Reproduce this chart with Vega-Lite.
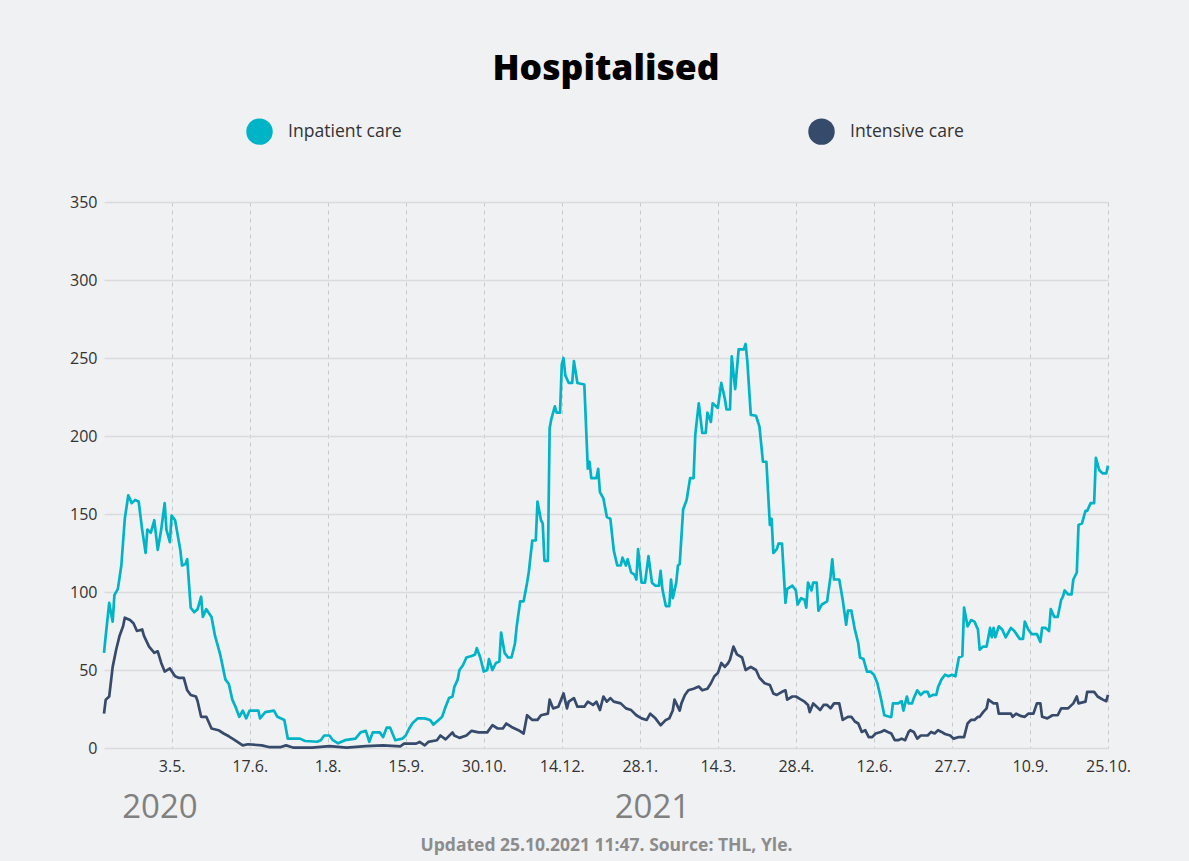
{
  "$schema": "https://vega.github.io/schema/vega-lite/v6.json",
  "autosize": {"type": "none"},
  "padding": {"left": 104, "top": 202, "right": 81, "bottom": 113},
  "width": 1004,
  "height": 546,
  "background": "#f0f1f3",
  "title": {"text": "Hospitalised", "font": "Open Sans", "fontSize": 35.5, "fontWeight": 800, "color": "#000000", "anchor": "middle", "frame": "group", "offset": 31},
  "datasets": {
    "years": [
      {"date": "2020-04-26", "label": "2020"},
      {"date": "2021-02-04", "label": "2021"}
    ],
    "hosp": [
      {"date":"2020-03-25","series":"Inpatient care","value":61},
      {"date":"2020-03-26","series":"Inpatient care","value":72},
      {"date":"2020-03-28","series":"Inpatient care","value":93},
      {"date":"2020-03-30","series":"Inpatient care","value":81},
      {"date":"2020-03-31","series":"Inpatient care","value":98},
      {"date":"2020-04-02","series":"Inpatient care","value":102},
      {"date":"2020-04-04","series":"Inpatient care","value":117},
      {"date":"2020-04-06","series":"Inpatient care","value":147},
      {"date":"2020-04-08","series":"Inpatient care","value":162},
      {"date":"2020-04-10","series":"Inpatient care","value":157},
      {"date":"2020-04-12","series":"Inpatient care","value":159},
      {"date":"2020-04-14","series":"Inpatient care","value":158},
      {"date":"2020-04-16","series":"Inpatient care","value":140},
      {"date":"2020-04-18","series":"Inpatient care","value":125},
      {"date":"2020-04-19","series":"Inpatient care","value":140},
      {"date":"2020-04-21","series":"Inpatient care","value":138},
      {"date":"2020-04-23","series":"Inpatient care","value":146},
      {"date":"2020-04-25","series":"Inpatient care","value":127},
      {"date":"2020-04-27","series":"Inpatient care","value":140},
      {"date":"2020-04-29","series":"Inpatient care","value":157},
      {"date":"2020-04-30","series":"Inpatient care","value":140},
      {"date":"2020-05-02","series":"Inpatient care","value":132},
      {"date":"2020-05-03","series":"Inpatient care","value":149},
      {"date":"2020-05-05","series":"Inpatient care","value":146},
      {"date":"2020-05-08","series":"Inpatient care","value":127},
      {"date":"2020-05-09","series":"Inpatient care","value":117},
      {"date":"2020-05-11","series":"Inpatient care","value":118},
      {"date":"2020-05-12","series":"Inpatient care","value":121},
      {"date":"2020-05-14","series":"Inpatient care","value":90},
      {"date":"2020-05-16","series":"Inpatient care","value":87},
      {"date":"2020-05-18","series":"Inpatient care","value":89},
      {"date":"2020-05-20","series":"Inpatient care","value":97},
      {"date":"2020-05-21","series":"Inpatient care","value":84},
      {"date":"2020-05-23","series":"Inpatient care","value":89},
      {"date":"2020-05-26","series":"Inpatient care","value":84},
      {"date":"2020-05-28","series":"Inpatient care","value":72},
      {"date":"2020-05-31","series":"Inpatient care","value":60},
      {"date":"2020-06-03","series":"Inpatient care","value":44},
      {"date":"2020-06-05","series":"Inpatient care","value":41},
      {"date":"2020-06-07","series":"Inpatient care","value":31},
      {"date":"2020-06-09","series":"Inpatient care","value":26},
      {"date":"2020-06-11","series":"Inpatient care","value":20},
      {"date":"2020-06-13","series":"Inpatient care","value":24},
      {"date":"2020-06-15","series":"Inpatient care","value":19},
      {"date":"2020-06-17","series":"Inpatient care","value":24},
      {"date":"2020-06-22","series":"Inpatient care","value":24},
      {"date":"2020-06-23","series":"Inpatient care","value":19},
      {"date":"2020-06-26","series":"Inpatient care","value":23},
      {"date":"2020-07-01","series":"Inpatient care","value":24},
      {"date":"2020-07-03","series":"Inpatient care","value":20},
      {"date":"2020-07-07","series":"Inpatient care","value":18},
      {"date":"2020-07-09","series":"Inpatient care","value":6},
      {"date":"2020-07-16","series":"Inpatient care","value":6},
      {"date":"2020-07-19","series":"Inpatient care","value":4.5},
      {"date":"2020-07-26","series":"Inpatient care","value":4},
      {"date":"2020-07-28","series":"Inpatient care","value":5},
      {"date":"2020-07-30","series":"Inpatient care","value":8},
      {"date":"2020-08-02","series":"Inpatient care","value":8},
      {"date":"2020-08-04","series":"Inpatient care","value":5},
      {"date":"2020-08-07","series":"Inpatient care","value":3},
      {"date":"2020-08-11","series":"Inpatient care","value":5},
      {"date":"2020-08-17","series":"Inpatient care","value":6},
      {"date":"2020-08-20","series":"Inpatient care","value":10},
      {"date":"2020-08-23","series":"Inpatient care","value":11},
      {"date":"2020-08-25","series":"Inpatient care","value":4},
      {"date":"2020-08-27","series":"Inpatient care","value":10},
      {"date":"2020-08-31","series":"Inpatient care","value":10},
      {"date":"2020-09-02","series":"Inpatient care","value":7},
      {"date":"2020-09-04","series":"Inpatient care","value":13},
      {"date":"2020-09-06","series":"Inpatient care","value":13},
      {"date":"2020-09-09","series":"Inpatient care","value":5},
      {"date":"2020-09-13","series":"Inpatient care","value":6},
      {"date":"2020-09-15","series":"Inpatient care","value":8},
      {"date":"2020-09-17","series":"Inpatient care","value":12.5},
      {"date":"2020-09-19","series":"Inpatient care","value":16},
      {"date":"2020-09-22","series":"Inpatient care","value":19},
      {"date":"2020-09-26","series":"Inpatient care","value":19},
      {"date":"2020-09-29","series":"Inpatient care","value":18},
      {"date":"2020-10-01","series":"Inpatient care","value":15},
      {"date":"2020-10-04","series":"Inpatient care","value":18},
      {"date":"2020-10-06","series":"Inpatient care","value":20},
      {"date":"2020-10-08","series":"Inpatient care","value":26.5},
      {"date":"2020-10-10","series":"Inpatient care","value":32},
      {"date":"2020-10-12","series":"Inpatient care","value":33},
      {"date":"2020-10-13","series":"Inpatient care","value":39},
      {"date":"2020-10-15","series":"Inpatient care","value":44},
      {"date":"2020-10-16","series":"Inpatient care","value":50},
      {"date":"2020-10-18","series":"Inpatient care","value":53},
      {"date":"2020-10-20","series":"Inpatient care","value":58},
      {"date":"2020-10-23","series":"Inpatient care","value":59},
      {"date":"2020-10-25","series":"Inpatient care","value":60},
      {"date":"2020-10-26","series":"Inpatient care","value":64},
      {"date":"2020-10-28","series":"Inpatient care","value":58},
      {"date":"2020-10-30","series":"Inpatient care","value":49},
      {"date":"2020-11-01","series":"Inpatient care","value":50},
      {"date":"2020-11-02","series":"Inpatient care","value":57},
      {"date":"2020-11-04","series":"Inpatient care","value":50},
      {"date":"2020-11-06","series":"Inpatient care","value":54.5},
      {"date":"2020-11-08","series":"Inpatient care","value":55.5},
      {"date":"2020-11-09","series":"Inpatient care","value":74},
      {"date":"2020-11-11","series":"Inpatient care","value":61},
      {"date":"2020-11-13","series":"Inpatient care","value":58},
      {"date":"2020-11-15","series":"Inpatient care","value":58},
      {"date":"2020-11-17","series":"Inpatient care","value":67},
      {"date":"2020-11-18","series":"Inpatient care","value":78},
      {"date":"2020-11-20","series":"Inpatient care","value":94},
      {"date":"2020-11-22","series":"Inpatient care","value":94},
      {"date":"2020-11-24","series":"Inpatient care","value":106},
      {"date":"2020-11-25","series":"Inpatient care","value":113},
      {"date":"2020-11-27","series":"Inpatient care","value":133},
      {"date":"2020-11-29","series":"Inpatient care","value":133},
      {"date":"2020-11-30","series":"Inpatient care","value":158},
      {"date":"2020-12-02","series":"Inpatient care","value":146},
      {"date":"2020-12-03","series":"Inpatient care","value":144},
      {"date":"2020-12-04","series":"Inpatient care","value":120},
      {"date":"2020-12-06","series":"Inpatient care","value":120},
      {"date":"2020-12-07","series":"Inpatient care","value":205},
      {"date":"2020-12-08","series":"Inpatient care","value":211},
      {"date":"2020-12-10","series":"Inpatient care","value":219},
      {"date":"2020-12-11","series":"Inpatient care","value":215},
      {"date":"2020-12-13","series":"Inpatient care","value":215},
      {"date":"2020-12-14","series":"Inpatient care","value":246},
      {"date":"2020-12-15","series":"Inpatient care","value":250},
      {"date":"2020-12-16","series":"Inpatient care","value":239},
      {"date":"2020-12-18","series":"Inpatient care","value":234},
      {"date":"2020-12-20","series":"Inpatient care","value":234},
      {"date":"2020-12-21","series":"Inpatient care","value":248},
      {"date":"2020-12-23","series":"Inpatient care","value":234},
      {"date":"2020-12-27","series":"Inpatient care","value":233},
      {"date":"2020-12-29","series":"Inpatient care","value":179},
      {"date":"2020-12-30","series":"Inpatient care","value":183.5},
      {"date":"2020-12-31","series":"Inpatient care","value":173},
      {"date":"2021-01-03","series":"Inpatient care","value":173},
      {"date":"2021-01-04","series":"Inpatient care","value":179},
      {"date":"2021-01-05","series":"Inpatient care","value":164},
      {"date":"2021-01-07","series":"Inpatient care","value":160},
      {"date":"2021-01-09","series":"Inpatient care","value":148},
      {"date":"2021-01-11","series":"Inpatient care","value":147},
      {"date":"2021-01-13","series":"Inpatient care","value":126.5},
      {"date":"2021-01-15","series":"Inpatient care","value":117},
      {"date":"2021-01-17","series":"Inpatient care","value":117},
      {"date":"2021-01-18","series":"Inpatient care","value":122},
      {"date":"2021-01-20","series":"Inpatient care","value":117},
      {"date":"2021-01-21","series":"Inpatient care","value":121},
      {"date":"2021-01-23","series":"Inpatient care","value":112.5},
      {"date":"2021-01-25","series":"Inpatient care","value":111},
      {"date":"2021-01-26","series":"Inpatient care","value":108},
      {"date":"2021-01-27","series":"Inpatient care","value":127.5},
      {"date":"2021-01-29","series":"Inpatient care","value":106},
      {"date":"2021-01-31","series":"Inpatient care","value":106},
      {"date":"2021-02-02","series":"Inpatient care","value":123},
      {"date":"2021-02-04","series":"Inpatient care","value":106},
      {"date":"2021-02-06","series":"Inpatient care","value":104},
      {"date":"2021-02-08","series":"Inpatient care","value":104},
      {"date":"2021-02-09","series":"Inpatient care","value":113.5},
      {"date":"2021-02-10","series":"Inpatient care","value":102},
      {"date":"2021-02-12","series":"Inpatient care","value":91},
      {"date":"2021-02-14","series":"Inpatient care","value":91},
      {"date":"2021-02-15","series":"Inpatient care","value":108},
      {"date":"2021-02-16","series":"Inpatient care","value":96},
      {"date":"2021-02-18","series":"Inpatient care","value":106},
      {"date":"2021-02-19","series":"Inpatient care","value":117},
      {"date":"2021-02-20","series":"Inpatient care","value":118},
      {"date":"2021-02-22","series":"Inpatient care","value":153},
      {"date":"2021-02-24","series":"Inpatient care","value":159},
      {"date":"2021-02-26","series":"Inpatient care","value":173},
      {"date":"2021-02-28","series":"Inpatient care","value":173},
      {"date":"2021-03-01","series":"Inpatient care","value":201},
      {"date":"2021-03-03","series":"Inpatient care","value":221},
      {"date":"2021-03-05","series":"Inpatient care","value":202},
      {"date":"2021-03-07","series":"Inpatient care","value":202},
      {"date":"2021-03-08","series":"Inpatient care","value":215},
      {"date":"2021-03-10","series":"Inpatient care","value":209},
      {"date":"2021-03-11","series":"Inpatient care","value":221},
      {"date":"2021-03-14","series":"Inpatient care","value":218},
      {"date":"2021-03-16","series":"Inpatient care","value":234},
      {"date":"2021-03-18","series":"Inpatient care","value":224},
      {"date":"2021-03-19","series":"Inpatient care","value":217},
      {"date":"2021-03-21","series":"Inpatient care","value":217},
      {"date":"2021-03-22","series":"Inpatient care","value":251},
      {"date":"2021-03-24","series":"Inpatient care","value":230},
      {"date":"2021-03-26","series":"Inpatient care","value":255.5},
      {"date":"2021-03-29","series":"Inpatient care","value":255.5},
      {"date":"2021-03-30","series":"Inpatient care","value":259},
      {"date":"2021-03-31","series":"Inpatient care","value":248},
      {"date":"2021-04-02","series":"Inpatient care","value":213.5},
      {"date":"2021-04-05","series":"Inpatient care","value":213},
      {"date":"2021-04-07","series":"Inpatient care","value":206},
      {"date":"2021-04-09","series":"Inpatient care","value":183.5},
      {"date":"2021-04-11","series":"Inpatient care","value":183.5},
      {"date":"2021-04-13","series":"Inpatient care","value":143},
      {"date":"2021-04-14","series":"Inpatient care","value":147},
      {"date":"2021-04-15","series":"Inpatient care","value":125},
      {"date":"2021-04-17","series":"Inpatient care","value":127.5},
      {"date":"2021-04-18","series":"Inpatient care","value":131},
      {"date":"2021-04-20","series":"Inpatient care","value":131},
      {"date":"2021-04-22","series":"Inpatient care","value":93},
      {"date":"2021-04-23","series":"Inpatient care","value":102},
      {"date":"2021-04-26","series":"Inpatient care","value":104},
      {"date":"2021-04-28","series":"Inpatient care","value":101},
      {"date":"2021-04-29","series":"Inpatient care","value":92},
      {"date":"2021-05-01","series":"Inpatient care","value":96},
      {"date":"2021-05-03","series":"Inpatient care","value":95},
      {"date":"2021-05-04","series":"Inpatient care","value":90},
      {"date":"2021-05-05","series":"Inpatient care","value":106},
      {"date":"2021-05-07","series":"Inpatient care","value":101},
      {"date":"2021-05-08","series":"Inpatient care","value":106},
      {"date":"2021-05-10","series":"Inpatient care","value":106},
      {"date":"2021-05-11","series":"Inpatient care","value":88},
      {"date":"2021-05-13","series":"Inpatient care","value":92},
      {"date":"2021-05-16","series":"Inpatient care","value":94},
      {"date":"2021-05-18","series":"Inpatient care","value":110},
      {"date":"2021-05-19","series":"Inpatient care","value":121},
      {"date":"2021-05-20","series":"Inpatient care","value":108},
      {"date":"2021-05-23","series":"Inpatient care","value":108},
      {"date":"2021-05-25","series":"Inpatient care","value":95},
      {"date":"2021-05-27","series":"Inpatient care","value":79},
      {"date":"2021-05-28","series":"Inpatient care","value":88},
      {"date":"2021-05-30","series":"Inpatient care","value":88},
      {"date":"2021-06-01","series":"Inpatient care","value":76},
      {"date":"2021-06-03","series":"Inpatient care","value":67},
      {"date":"2021-06-04","series":"Inpatient care","value":58},
      {"date":"2021-06-06","series":"Inpatient care","value":57},
      {"date":"2021-06-08","series":"Inpatient care","value":49},
      {"date":"2021-06-10","series":"Inpatient care","value":49},
      {"date":"2021-06-12","series":"Inpatient care","value":47},
      {"date":"2021-06-14","series":"Inpatient care","value":41.5},
      {"date":"2021-06-16","series":"Inpatient care","value":32},
      {"date":"2021-06-18","series":"Inpatient care","value":21},
      {"date":"2021-06-21","series":"Inpatient care","value":20},
      {"date":"2021-06-22","series":"Inpatient care","value":20},
      {"date":"2021-06-23","series":"Inpatient care","value":28.6},
      {"date":"2021-06-26","series":"Inpatient care","value":28.6},
      {"date":"2021-06-28","series":"Inpatient care","value":30},
      {"date":"2021-06-29","series":"Inpatient care","value":24},
      {"date":"2021-07-01","series":"Inpatient care","value":33},
      {"date":"2021-07-02","series":"Inpatient care","value":28.6},
      {"date":"2021-07-04","series":"Inpatient care","value":28.6},
      {"date":"2021-07-05","series":"Inpatient care","value":32},
      {"date":"2021-07-07","series":"Inpatient care","value":37},
      {"date":"2021-07-09","series":"Inpatient care","value":34},
      {"date":"2021-07-11","series":"Inpatient care","value":36},
      {"date":"2021-07-13","series":"Inpatient care","value":36},
      {"date":"2021-07-14","series":"Inpatient care","value":33},
      {"date":"2021-07-16","series":"Inpatient care","value":34},
      {"date":"2021-07-18","series":"Inpatient care","value":34},
      {"date":"2021-07-19","series":"Inpatient care","value":39},
      {"date":"2021-07-21","series":"Inpatient care","value":44},
      {"date":"2021-07-23","series":"Inpatient care","value":47},
      {"date":"2021-07-25","series":"Inpatient care","value":46},
      {"date":"2021-07-27","series":"Inpatient care","value":47},
      {"date":"2021-07-29","series":"Inpatient care","value":46},
      {"date":"2021-07-30","series":"Inpatient care","value":52},
      {"date":"2021-07-31","series":"Inpatient care","value":58},
      {"date":"2021-08-02","series":"Inpatient care","value":59},
      {"date":"2021-08-03","series":"Inpatient care","value":90},
      {"date":"2021-08-05","series":"Inpatient care","value":78},
      {"date":"2021-08-07","series":"Inpatient care","value":82},
      {"date":"2021-08-09","series":"Inpatient care","value":81},
      {"date":"2021-08-11","series":"Inpatient care","value":76},
      {"date":"2021-08-12","series":"Inpatient care","value":63},
      {"date":"2021-08-14","series":"Inpatient care","value":65},
      {"date":"2021-08-16","series":"Inpatient care","value":65},
      {"date":"2021-08-18","series":"Inpatient care","value":77},
      {"date":"2021-08-19","series":"Inpatient care","value":71},
      {"date":"2021-08-20","series":"Inpatient care","value":77},
      {"date":"2021-08-21","series":"Inpatient care","value":71},
      {"date":"2021-08-23","series":"Inpatient care","value":78},
      {"date":"2021-08-25","series":"Inpatient care","value":76},
      {"date":"2021-08-27","series":"Inpatient care","value":71},
      {"date":"2021-08-30","series":"Inpatient care","value":77},
      {"date":"2021-09-01","series":"Inpatient care","value":75},
      {"date":"2021-09-04","series":"Inpatient care","value":70},
      {"date":"2021-09-06","series":"Inpatient care","value":70},
      {"date":"2021-09-07","series":"Inpatient care","value":81},
      {"date":"2021-09-09","series":"Inpatient care","value":76},
      {"date":"2021-09-11","series":"Inpatient care","value":73},
      {"date":"2021-09-14","series":"Inpatient care","value":73},
      {"date":"2021-09-16","series":"Inpatient care","value":68},
      {"date":"2021-09-17","series":"Inpatient care","value":77},
      {"date":"2021-09-19","series":"Inpatient care","value":77},
      {"date":"2021-09-21","series":"Inpatient care","value":75},
      {"date":"2021-09-22","series":"Inpatient care","value":89},
      {"date":"2021-09-24","series":"Inpatient care","value":84},
      {"date":"2021-09-26","series":"Inpatient care","value":84},
      {"date":"2021-09-28","series":"Inpatient care","value":95},
      {"date":"2021-09-29","series":"Inpatient care","value":97},
      {"date":"2021-09-30","series":"Inpatient care","value":101},
      {"date":"2021-10-02","series":"Inpatient care","value":98.5},
      {"date":"2021-10-04","series":"Inpatient care","value":98.5},
      {"date":"2021-10-05","series":"Inpatient care","value":108},
      {"date":"2021-10-07","series":"Inpatient care","value":112.5},
      {"date":"2021-10-08","series":"Inpatient care","value":143},
      {"date":"2021-10-10","series":"Inpatient care","value":144},
      {"date":"2021-10-12","series":"Inpatient care","value":152},
      {"date":"2021-10-13","series":"Inpatient care","value":152},
      {"date":"2021-10-15","series":"Inpatient care","value":157},
      {"date":"2021-10-17","series":"Inpatient care","value":157},
      {"date":"2021-10-18","series":"Inpatient care","value":186},
      {"date":"2021-10-20","series":"Inpatient care","value":178},
      {"date":"2021-10-22","series":"Inpatient care","value":176},
      {"date":"2021-10-24","series":"Inpatient care","value":176},
      {"date":"2021-10-25","series":"Inpatient care","value":181},
      {"date":"2020-03-25","series":"Intensive care","value":22},
      {"date":"2020-03-26","series":"Intensive care","value":31},
      {"date":"2020-03-28","series":"Intensive care","value":33},
      {"date":"2020-03-30","series":"Intensive care","value":52},
      {"date":"2020-04-01","series":"Intensive care","value":63},
      {"date":"2020-04-03","series":"Intensive care","value":72},
      {"date":"2020-04-05","series":"Intensive care","value":78},
      {"date":"2020-04-06","series":"Intensive care","value":83.5},
      {"date":"2020-04-09","series":"Intensive care","value":82},
      {"date":"2020-04-11","series":"Intensive care","value":80},
      {"date":"2020-04-13","series":"Intensive care","value":75},
      {"date":"2020-04-16","series":"Intensive care","value":76},
      {"date":"2020-04-17","series":"Intensive care","value":72},
      {"date":"2020-04-20","series":"Intensive care","value":65},
      {"date":"2020-04-23","series":"Intensive care","value":61},
      {"date":"2020-04-25","series":"Intensive care","value":62},
      {"date":"2020-04-27","series":"Intensive care","value":54.5},
      {"date":"2020-04-29","series":"Intensive care","value":49},
      {"date":"2020-05-02","series":"Intensive care","value":51},
      {"date":"2020-05-05","series":"Intensive care","value":46},
      {"date":"2020-05-07","series":"Intensive care","value":45},
      {"date":"2020-05-10","series":"Intensive care","value":45},
      {"date":"2020-05-12","series":"Intensive care","value":37},
      {"date":"2020-05-14","series":"Intensive care","value":34},
      {"date":"2020-05-17","series":"Intensive care","value":33},
      {"date":"2020-05-18","series":"Intensive care","value":30},
      {"date":"2020-05-20","series":"Intensive care","value":20},
      {"date":"2020-05-23","series":"Intensive care","value":20},
      {"date":"2020-05-26","series":"Intensive care","value":12.5},
      {"date":"2020-05-30","series":"Intensive care","value":11.4},
      {"date":"2020-06-02","series":"Intensive care","value":9.3},
      {"date":"2020-06-05","series":"Intensive care","value":7.5},
      {"date":"2020-06-08","series":"Intensive care","value":5.4},
      {"date":"2020-06-13","series":"Intensive care","value":1.7},
      {"date":"2020-06-16","series":"Intensive care","value":2.4},
      {"date":"2020-06-24","series":"Intensive care","value":1.7},
      {"date":"2020-06-28","series":"Intensive care","value":0.6},
      {"date":"2020-07-05","series":"Intensive care","value":0.6},
      {"date":"2020-07-08","series":"Intensive care","value":1.7},
      {"date":"2020-07-11","series":"Intensive care","value":0.6},
      {"date":"2020-07-12","series":"Intensive care","value":0.3},
      {"date":"2020-07-23","series":"Intensive care","value":0.3},
      {"date":"2020-08-02","series":"Intensive care","value":1.2},
      {"date":"2020-08-12","series":"Intensive care","value":0.3},
      {"date":"2020-08-23","series":"Intensive care","value":1.2},
      {"date":"2020-09-02","series":"Intensive care","value":1.7},
      {"date":"2020-09-12","series":"Intensive care","value":1.1},
      {"date":"2020-09-14","series":"Intensive care","value":2.8},
      {"date":"2020-09-21","series":"Intensive care","value":2.8},
      {"date":"2020-09-23","series":"Intensive care","value":3.9},
      {"date":"2020-09-26","series":"Intensive care","value":1.7},
      {"date":"2020-09-28","series":"Intensive care","value":3.9},
      {"date":"2020-10-03","series":"Intensive care","value":5},
      {"date":"2020-10-05","series":"Intensive care","value":8},
      {"date":"2020-10-08","series":"Intensive care","value":5.5},
      {"date":"2020-10-12","series":"Intensive care","value":10},
      {"date":"2020-10-13","series":"Intensive care","value":8},
      {"date":"2020-10-16","series":"Intensive care","value":6.5},
      {"date":"2020-10-20","series":"Intensive care","value":8},
      {"date":"2020-10-23","series":"Intensive care","value":11},
      {"date":"2020-10-27","series":"Intensive care","value":10},
      {"date":"2020-11-01","series":"Intensive care","value":10},
      {"date":"2020-11-04","series":"Intensive care","value":14.6},
      {"date":"2020-11-07","series":"Intensive care","value":12.5},
      {"date":"2020-11-10","series":"Intensive care","value":12.5},
      {"date":"2020-11-12","series":"Intensive care","value":15.7},
      {"date":"2020-11-15","series":"Intensive care","value":13.5},
      {"date":"2020-11-19","series":"Intensive care","value":11.4},
      {"date":"2020-11-22","series":"Intensive care","value":9.3},
      {"date":"2020-11-24","series":"Intensive care","value":21},
      {"date":"2020-11-27","series":"Intensive care","value":18},
      {"date":"2020-11-30","series":"Intensive care","value":18},
      {"date":"2020-12-02","series":"Intensive care","value":21},
      {"date":"2020-12-06","series":"Intensive care","value":22},
      {"date":"2020-12-07","series":"Intensive care","value":31},
      {"date":"2020-12-09","series":"Intensive care","value":25.4},
      {"date":"2020-12-12","series":"Intensive care","value":26.5},
      {"date":"2020-12-15","series":"Intensive care","value":35},
      {"date":"2020-12-17","series":"Intensive care","value":25.4},
      {"date":"2020-12-18","series":"Intensive care","value":29.7},
      {"date":"2020-12-21","series":"Intensive care","value":32},
      {"date":"2020-12-23","series":"Intensive care","value":26.5},
      {"date":"2020-12-27","series":"Intensive care","value":26.5},
      {"date":"2020-12-29","series":"Intensive care","value":29.7},
      {"date":"2021-01-01","series":"Intensive care","value":27.6},
      {"date":"2021-01-03","series":"Intensive care","value":29.7},
      {"date":"2021-01-05","series":"Intensive care","value":24.3},
      {"date":"2021-01-07","series":"Intensive care","value":33},
      {"date":"2021-01-09","series":"Intensive care","value":29.7},
      {"date":"2021-01-11","series":"Intensive care","value":32},
      {"date":"2021-01-13","series":"Intensive care","value":29.7},
      {"date":"2021-01-17","series":"Intensive care","value":28.6},
      {"date":"2021-01-20","series":"Intensive care","value":25.4},
      {"date":"2021-01-23","series":"Intensive care","value":24.3},
      {"date":"2021-01-26","series":"Intensive care","value":21},
      {"date":"2021-01-29","series":"Intensive care","value":19},
      {"date":"2021-02-01","series":"Intensive care","value":18},
      {"date":"2021-02-03","series":"Intensive care","value":22},
      {"date":"2021-02-06","series":"Intensive care","value":19},
      {"date":"2021-02-09","series":"Intensive care","value":14.6},
      {"date":"2021-02-12","series":"Intensive care","value":18},
      {"date":"2021-02-14","series":"Intensive care","value":19},
      {"date":"2021-02-16","series":"Intensive care","value":24},
      {"date":"2021-02-17","series":"Intensive care","value":31},
      {"date":"2021-02-20","series":"Intensive care","value":24},
      {"date":"2021-02-21","series":"Intensive care","value":28.6},
      {"date":"2021-02-23","series":"Intensive care","value":34},
      {"date":"2021-02-25","series":"Intensive care","value":37},
      {"date":"2021-02-28","series":"Intensive care","value":38},
      {"date":"2021-03-03","series":"Intensive care","value":39.4},
      {"date":"2021-03-05","series":"Intensive care","value":37},
      {"date":"2021-03-08","series":"Intensive care","value":38},
      {"date":"2021-03-10","series":"Intensive care","value":41.5},
      {"date":"2021-03-12","series":"Intensive care","value":46},
      {"date":"2021-03-14","series":"Intensive care","value":48},
      {"date":"2021-03-16","series":"Intensive care","value":54.5},
      {"date":"2021-03-18","series":"Intensive care","value":52},
      {"date":"2021-03-20","series":"Intensive care","value":54.5},
      {"date":"2021-03-21","series":"Intensive care","value":56.6},
      {"date":"2021-03-23","series":"Intensive care","value":65},
      {"date":"2021-03-25","series":"Intensive care","value":60},
      {"date":"2021-03-28","series":"Intensive care","value":58},
      {"date":"2021-03-30","series":"Intensive care","value":50},
      {"date":"2021-04-02","series":"Intensive care","value":52},
      {"date":"2021-04-05","series":"Intensive care","value":50},
      {"date":"2021-04-07","series":"Intensive care","value":45},
      {"date":"2021-04-10","series":"Intensive care","value":41.5},
      {"date":"2021-04-13","series":"Intensive care","value":40.4},
      {"date":"2021-04-15","series":"Intensive care","value":35},
      {"date":"2021-04-17","series":"Intensive care","value":34},
      {"date":"2021-04-20","series":"Intensive care","value":36},
      {"date":"2021-04-22","series":"Intensive care","value":37},
      {"date":"2021-04-23","series":"Intensive care","value":31},
      {"date":"2021-04-26","series":"Intensive care","value":33},
      {"date":"2021-04-28","series":"Intensive care","value":33},
      {"date":"2021-05-01","series":"Intensive care","value":31},
      {"date":"2021-05-03","series":"Intensive care","value":29.7},
      {"date":"2021-05-05","series":"Intensive care","value":27.6},
      {"date":"2021-05-06","series":"Intensive care","value":23},
      {"date":"2021-05-08","series":"Intensive care","value":28.6},
      {"date":"2021-05-10","series":"Intensive care","value":26.5},
      {"date":"2021-05-12","series":"Intensive care","value":24.3},
      {"date":"2021-05-14","series":"Intensive care","value":27.6},
      {"date":"2021-05-16","series":"Intensive care","value":27.6},
      {"date":"2021-05-18","series":"Intensive care","value":25.4},
      {"date":"2021-05-20","series":"Intensive care","value":28.6},
      {"date":"2021-05-23","series":"Intensive care","value":28.6},
      {"date":"2021-05-25","series":"Intensive care","value":18},
      {"date":"2021-05-28","series":"Intensive care","value":20},
      {"date":"2021-05-30","series":"Intensive care","value":20},
      {"date":"2021-06-01","series":"Intensive care","value":17},
      {"date":"2021-06-03","series":"Intensive care","value":15.7},
      {"date":"2021-06-05","series":"Intensive care","value":10.3},
      {"date":"2021-06-07","series":"Intensive care","value":11.4},
      {"date":"2021-06-09","series":"Intensive care","value":7},
      {"date":"2021-06-11","series":"Intensive care","value":7},
      {"date":"2021-06-13","series":"Intensive care","value":9.3},
      {"date":"2021-06-16","series":"Intensive care","value":10.3},
      {"date":"2021-06-18","series":"Intensive care","value":11.4},
      {"date":"2021-06-20","series":"Intensive care","value":10.3},
      {"date":"2021-06-22","series":"Intensive care","value":9.3},
      {"date":"2021-06-24","series":"Intensive care","value":5},
      {"date":"2021-06-26","series":"Intensive care","value":5},
      {"date":"2021-06-28","series":"Intensive care","value":6},
      {"date":"2021-06-30","series":"Intensive care","value":5},
      {"date":"2021-07-02","series":"Intensive care","value":10.3},
      {"date":"2021-07-03","series":"Intensive care","value":11.4},
      {"date":"2021-07-05","series":"Intensive care","value":10.3},
      {"date":"2021-07-07","series":"Intensive care","value":6},
      {"date":"2021-07-09","series":"Intensive care","value":8},
      {"date":"2021-07-13","series":"Intensive care","value":8},
      {"date":"2021-07-15","series":"Intensive care","value":10.3},
      {"date":"2021-07-17","series":"Intensive care","value":9.3},
      {"date":"2021-07-19","series":"Intensive care","value":11.4},
      {"date":"2021-07-21","series":"Intensive care","value":10.3},
      {"date":"2021-07-23","series":"Intensive care","value":9},
      {"date":"2021-07-26","series":"Intensive care","value":8},
      {"date":"2021-07-28","series":"Intensive care","value":6},
      {"date":"2021-07-31","series":"Intensive care","value":7},
      {"date":"2021-08-03","series":"Intensive care","value":7},
      {"date":"2021-08-05","series":"Intensive care","value":15.7},
      {"date":"2021-08-07","series":"Intensive care","value":18},
      {"date":"2021-08-09","series":"Intensive care","value":18},
      {"date":"2021-08-11","series":"Intensive care","value":20},
      {"date":"2021-08-12","series":"Intensive care","value":20},
      {"date":"2021-08-14","series":"Intensive care","value":23},
      {"date":"2021-08-16","series":"Intensive care","value":25.4},
      {"date":"2021-08-17","series":"Intensive care","value":31},
      {"date":"2021-08-20","series":"Intensive care","value":28.6},
      {"date":"2021-08-22","series":"Intensive care","value":28.6},
      {"date":"2021-08-23","series":"Intensive care","value":22},
      {"date":"2021-08-26","series":"Intensive care","value":22},
      {"date":"2021-08-28","series":"Intensive care","value":22},
      {"date":"2021-08-30","series":"Intensive care","value":22},
      {"date":"2021-08-31","series":"Intensive care","value":20},
      {"date":"2021-09-02","series":"Intensive care","value":22},
      {"date":"2021-09-05","series":"Intensive care","value":20.4},
      {"date":"2021-09-07","series":"Intensive care","value":20},
      {"date":"2021-09-09","series":"Intensive care","value":22},
      {"date":"2021-09-12","series":"Intensive care","value":22},
      {"date":"2021-09-14","series":"Intensive care","value":28.6},
      {"date":"2021-09-16","series":"Intensive care","value":28.6},
      {"date":"2021-09-17","series":"Intensive care","value":20},
      {"date":"2021-09-20","series":"Intensive care","value":19},
      {"date":"2021-09-23","series":"Intensive care","value":21},
      {"date":"2021-09-26","series":"Intensive care","value":21},
      {"date":"2021-09-28","series":"Intensive care","value":25.4},
      {"date":"2021-10-02","series":"Intensive care","value":25.4},
      {"date":"2021-10-05","series":"Intensive care","value":28.6},
      {"date":"2021-10-07","series":"Intensive care","value":33},
      {"date":"2021-10-08","series":"Intensive care","value":28.6},
      {"date":"2021-10-12","series":"Intensive care","value":29.7},
      {"date":"2021-10-13","series":"Intensive care","value":36},
      {"date":"2021-10-17","series":"Intensive care","value":36},
      {"date":"2021-10-19","series":"Intensive care","value":33},
      {"date":"2021-10-22","series":"Intensive care","value":31},
      {"date":"2021-10-24","series":"Intensive care","value":30},
      {"date":"2021-10-25","series":"Intensive care","value":34}
    ]
  },
  "resolve": {"axis": {"x": "independent"}},
  "layer": [
    {
      "data": {"name": "hosp"},
      "mark": {"type": "line", "strokeWidth": 2.7, "strokeJoin": "round"},
      "encoding": {
        "x": {
          "field": "date", "type": "temporal",
          "scale": {"type": "utc", "domain": [{"year": 2020, "month": 3, "date": 25, "utc": true}, {"year": 2021, "month": 10, "date": 25, "utc": true}]},
          "axis": {
            "orient": "bottom",
            "title": null,
            "values": [
              {"year": 2020, "month": 5, "date": 3, "utc": true},
              {"year": 2020, "month": 6, "date": 17, "utc": true},
              {"year": 2020, "month": 8, "date": 1, "utc": true},
              {"year": 2020, "month": 9, "date": 15, "utc": true},
              {"year": 2020, "month": 10, "date": 30, "utc": true},
              {"year": 2020, "month": 12, "date": 14, "utc": true},
              {"year": 2021, "month": 1, "date": 28, "utc": true},
              {"year": 2021, "month": 3, "date": 14, "utc": true},
              {"year": 2021, "month": 4, "date": 28, "utc": true},
              {"year": 2021, "month": 6, "date": 12, "utc": true},
              {"year": 2021, "month": 7, "date": 27, "utc": true},
              {"year": 2021, "month": 9, "date": 10, "utc": true},
              {"year": 2021, "month": 10, "date": 25, "utc": true}
            ],
            "labelExpr": "utcFormat(datum.value, '%-d.%-m.')",
            "grid": true, "gridDash": [4, 4], "gridColor": "#c6c8cb", "gridWidth": 1,
            "ticks": false, "domain": false,
            "labelFont": "Open Sans", "labelFontSize": 16, "labelColor": "#333333",
            "labelPadding": 10, "labelFlush": false, "labelOverlap": false
          }
        },
        "y": {
          "field": "value", "type": "quantitative",
          "scale": {"domain": [0, 350]},
          "axis": {
            "title": null,
            "values": [0, 50, 100, 150, 200, 250, 300, 350],
            "grid": true, "gridColor": "#dadbde", "gridWidth": 1.5,
            "ticks": false, "domain": false,
            "labelFont": "Open Sans", "labelFontSize": 16, "labelColor": "#333333",
            "labelPadding": 7, "labelFlush": false
          }
        },
        "color": {
          "field": "series", "type": "nominal",
          "scale": {"domain": ["Inpatient care", "Intensive care"], "range": ["#00b4c8", "#364a6b"]},
          "legend": {
            "orient": "none", "legendX": 142, "legendY": -84,
            "direction": "horizontal", "title": null,
            "symbolType": "circle", "symbolSize": 700, "symbolStrokeWidth": 0,
            "labelFont": "Open Sans", "labelFontSize": 17.6, "labelColor": "#333333",
            "labelOffset": 15, "columnPadding": 406,
            "encode": {"symbols": {"update": {"fill": {"scale": "color", "field": "value"}, "fillOpacity": {"value": 1}}}}
          }
        }
      }
    },
    {
      "data": {"name": "years"},
      "mark": {"type": "point", "opacity": 0},
      "encoding": {
        "x": {
          "field": "date", "type": "temporal",
          "scale": {"type": "utc", "domain": [{"year": 2020, "month": 3, "date": 25, "utc": true}, {"year": 2021, "month": 10, "date": 25, "utc": true}]},
          "axis": {
            "orient": "bottom",
            "values": [
              {"year": 2020, "month": 4, "date": 26, "utc": true},
              {"year": 2021, "month": 2, "date": 4, "utc": true}
            ],
            "labelExpr": "utcFormat(datum.value, '%Y')",
            "grid": false, "ticks": false, "domain": false,
            "labelFont": "Open Sans", "labelFontSize": 33, "labelColor": "#808080",
            "labelPadding": 43, "labelFlush": false,
            "title": "Updated 25.10.2021 11:47. Source: THL, Yle.",
            "titleFont": "Open Sans", "titleFontSize": 17.5, "titleFontWeight": "bold", "titleColor": "#8c8c8c",
            "titlePadding": 12
          }
        }
      }
    }
  ],
  "config": {
    "view": {"stroke": null},
    "font": "Open Sans"
  }
}
